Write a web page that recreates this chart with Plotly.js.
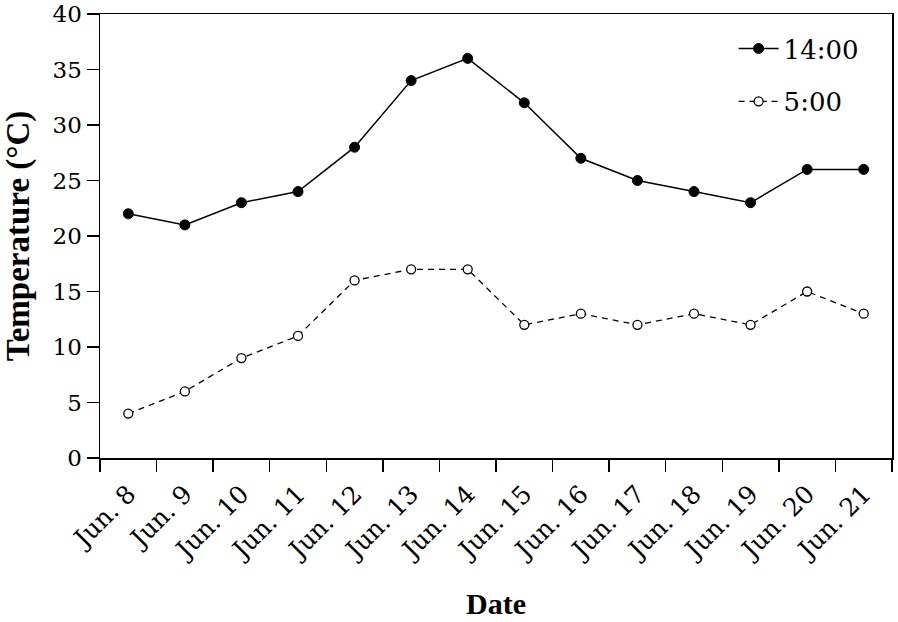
<!DOCTYPE html>
<html>
<head>
<meta charset="utf-8">
<script src="https://cdn.plot.ly/plotly-3.0.1.min.js"></script>
<style>
  html, body { margin: 0; padding: 0; background: #fff; }
  #chart { width: 898px; height: 622px; }
</style>
</head>
<body>
<div id="chart"></div>
<script>
var dates = ["Jun. 8", "Jun. 9", "Jun. 10", "Jun. 11", "Jun. 12", "Jun. 13", "Jun. 14",
             "Jun. 15", "Jun. 16", "Jun. 17", "Jun. 18", "Jun. 19", "Jun. 20", "Jun. 21"];
var temp1400 = [22, 21, 23, 24, 28, 34, 36, 32, 27, 25, 24, 23, 26, 26];
var temp0500 = [4, 6, 9, 11, 16, 17, 17, 12, 13, 12, 13, 12, 15, 13];

var tickFam = "'DejaVu Serif', serif";
var titleFam = "'Liberation Serif', 'Times New Roman', serif";

var data = [
  {
    type: "scatter",
    mode: "lines+markers",
    name: "14:00",
    legendgroup: "a",
    x: dates,
    y: temp1400,
    line: {color: "#000", width: 1.5},
    marker: {size: 10, color: "#000", line: {color: "#000", width: 1}}
  },
  {
    type: "scatter",
    mode: "lines+markers",
    name: "5:00",
    legendgroup: "b",
    x: dates,
    y: temp0500,
    line: {color: "#000", width: 1.3, dash: "6px,5px"},
    marker: {size: 9, color: "#fff", line: {color: "#000", width: 1.3}}
  }
];

var layout = {
  width: 898,
  height: 622,
  margin: {l: 100, r: 6, t: 14, b: 164},
  paper_bgcolor: "#fff",
  plot_bgcolor: "#fff",
  font: {family: tickFam, color: "#000", size: 23},
  showlegend: true,
  legend: {
    x: 0.8, xanchor: "left", y: 0.975, yanchor: "top",
    font: {family: tickFam, size: 26},
    itemwidth: 40,
    traceorder: "grouped",
    tracegroupgap: 16,
    bgcolor: "rgba(0,0,0,0)"
  },
  xaxis: {
    type: "category",
    range: [-0.5, 13.5],
    tickson: "boundaries",
    ticks: "outside",
    ticklen: 12,
    tickwidth: 1.5,
    tickcolor: "#000",
    tickangle: -45,
    ticklabelstandoff: 10,
    showline: true,
    linecolor: "#000",
    linewidth: 1.5,
    mirror: true,
    showgrid: false,
    zeroline: false,
    tickfont: {family: tickFam, size: 25},
    title: {text: "<b>Date</b>", font: {family: titleFam, size: 30}, standoff: 28}
  },
  yaxis: {
    range: [0, 40],
    dtick: 5,
    ticks: "outside",
    ticklen: 12,
    tickwidth: 1.5,
    tickcolor: "#000",
    showline: true,
    linecolor: "#000",
    linewidth: 1.5,
    mirror: true,
    showgrid: false,
    zeroline: false,
    tickfont: {family: tickFam, size: 23},
    title: {text: "<b>Temperature (°C)</b>", font: {family: titleFam, size: 33}, standoff: 14}
  }
};

Plotly.newPlot("chart", data, layout, {displayModeBar: false, staticPlot: true});
</script>
</body>
</html>
